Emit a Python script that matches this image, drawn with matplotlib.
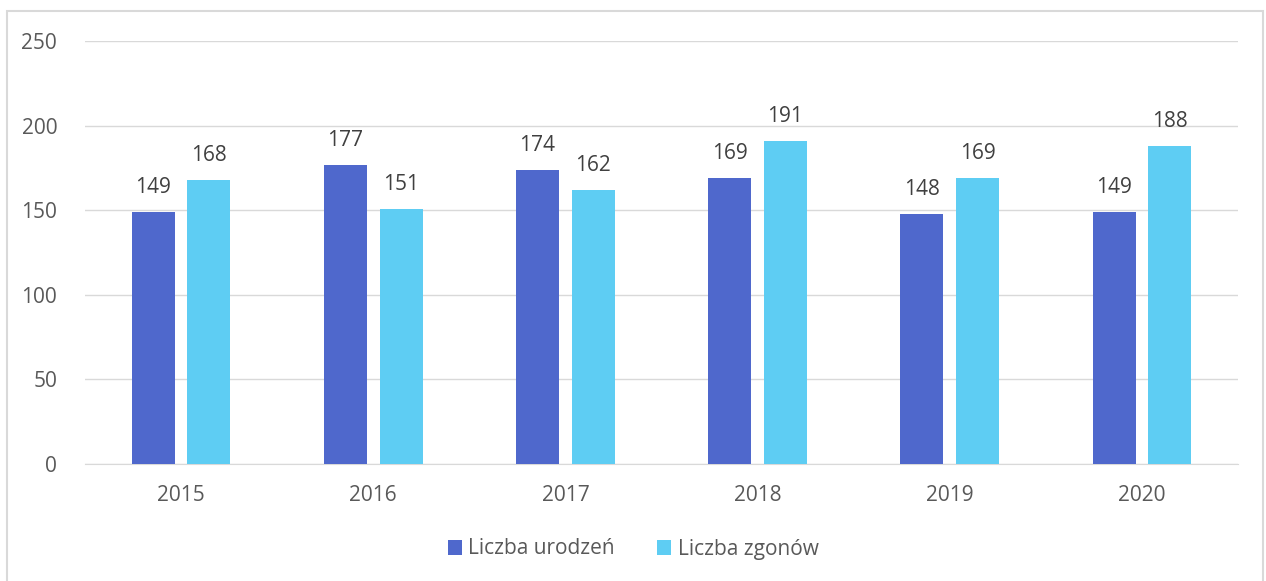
import matplotlib.pyplot as plt
import numpy as np
from matplotlib.patches import Rectangle

# data
years = ['2015', '2016', '2017', '2018', '2019', '2020']
urodzenia = [149, 177, 174, 169, 148, 149]
zgony = [168, 151, 162, 191, 169, 188]

plt.rcParams['font.family'] = ['Open Sans', 'DejaVu Sans']

fig = plt.figure(figsize=(12.66, 5.81), dpi=100)
ax = fig.add_axes([85 / 1266, 1 - 464 / 581, (1238 - 85) / 1266, (464 - 41) / 581])

x = np.arange(len(years))
w = 0.224
off = 0.145
b1 = ax.bar(x - off, urodzenia, width=w, color='#4F68CC', label='Liczba urodzeń', zorder=3)
b2 = ax.bar(x + off, zgony, width=w, color='#5ECDF3', label='Liczba zgonów', zorder=3)

for bars in (b1, b2):
    ax.bar_label(bars, padding=10, fontsize=15, color='#404040')

ax.set_xlim(-0.5, len(years) - 0.5)
ax.set_ylim(0, 250)
ax.set_yticks(range(0, 251, 50))
ax.set_xticks(x)
ax.set_xticklabels(years)
ax.tick_params(axis='both', length=0, labelsize=15, colors='#595959')
ax.tick_params(axis='y', pad=20)
ax.tick_params(axis='x', pad=15)
ax.grid(axis='y', color='#D9D9D9', linewidth=1, zorder=0)
for s in ['top', 'right', 'left']:
    ax.spines[s].set_visible(False)
ax.spines['bottom'].set_color('#D9D9D9')

leg = fig.legend(handles=[b1, b2], loc='center', bbox_to_anchor=(0.5, 1 - 549 / 581),
                 ncol=2, frameon=False, fontsize=15, handlelength=0.7, handleheight=0.7,
                 handletextpad=0.3, columnspacing=2.0)
for t in leg.get_texts():
    t.set_color('#595959')

# thin border around the chart
fig.patches.append(Rectangle((7 / 1266, -0.01), 1256 / 1266, 1 - 11 / 581 + 0.01,
                             transform=fig.transFigure, fill=False,
                             edgecolor='#D9D9D9', linewidth=1.5))

fig.savefig('out.png', dpi=100)
